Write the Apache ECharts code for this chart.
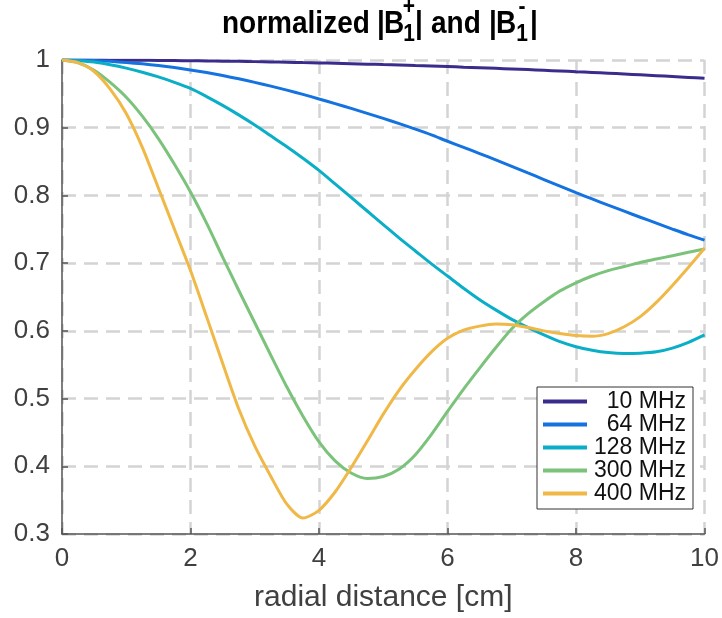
<!DOCTYPE html>
<html>
<head>
<meta charset="utf-8">
<script src="https://cdn.jsdelivr.net/npm/echarts@6/dist/echarts.min.js"></script>
<style>
html,body{margin:0;padding:0;background:#fff;}
#chart{width:722px;height:618px;}
</style>
</head>
<body>
<div id="chart"></div>
<script>
// radial distance [cm]
var xs = [0,0.25,0.5,0.75,1,1.25,1.5,1.75,2,2.25,2.5,2.75,3,3.25,3.5,3.75,4,4.25,4.5,4.75,5,
          5.25,5.5,5.75,6,6.25,6.5,6.75,7,7.25,7.5,7.75,8,8.25,8.5,8.75,9,9.25,9.5,9.75,10];
var seriesNames = ['10 MHz','64 MHz','128 MHz','300 MHz','400 MHz'];
var f10  = [1,1,0.9999,0.9998,0.9997,0.9996,0.9994,0.9992,0.9989,0.9986,0.9983,0.998,0.9976,0.9971,0.9967,0.9962,0.9957,0.9951,0.9945,0.9939,0.9932,
            0.9926,0.9918,0.9911,0.9903,0.9894,0.9886,0.9877,0.9868,0.9858,0.9848,0.9838,0.9827,0.9816,0.9805,0.9793,0.9781,0.9769,0.9756,0.9743,0.973];
var f64  = [1,0.9998,0.9991,0.998,0.9963,0.9943,0.9918,0.9888,0.9853,0.9814,0.977,0.9722,0.967,0.9614,0.9555,0.9492,0.9425,0.9356,0.9285,0.9212,0.9137,
            0.906,0.898,0.8895,0.880,0.871,0.8618,0.8525,0.843,0.8332,0.8235,0.8137,0.804,0.7948,0.7857,0.7767,0.7678,0.759,0.7503,0.7418,0.734];
var f128 = [1,0.999,0.997,0.993,0.988,0.982,0.975,0.967,0.958,0.946,0.933,0.919,0.904,0.888,0.872,0.855,0.837,0.817,0.797,0.777,0.757,
            0.737,0.718,0.699,0.681,0.663,0.646,0.631,0.617,0.605,0.594,0.584,0.5765,0.5715,0.568,0.5665,0.567,0.569,0.5745,0.583,0.594];
var f300 = [1,0.996,0.985,0.967,0.945,0.917,0.884,0.846,0.805,0.759,0.709,0.660,0.612,0.564,0.517,0.474,0.436,0.408,0.390,0.382,0.385,
            0.396,0.417,0.447,0.481,0.514,0.545,0.575,0.603,0.625,0.643,0.659,0.671,0.681,0.689,0.695,0.701,0.706,0.711,0.716,0.721];
var f400 = [1,0.996,0.983,0.957,0.921,0.871,0.811,0.750,0.689,0.621,0.552,0.485,0.430,0.385,0.344,0.3235,0.335,0.362,0.398,0.437,0.477,
            0.513,0.543,0.569,0.589,0.601,0.607,0.610,0.609,0.605,0.600,0.596,0.593,0.592,0.596,0.606,0.621,0.642,0.667,0.694,0.722];
var colors = ['#3a2c8c','#1473e0','#0aaec6','#7bc27b','#f0b846'];

var allValues = [f10,f64,f128,f300,f400];
function pairs(ys){ return xs.map(function(x,i){ return [x, ys[i]]; }); }

var FONT = "'Liberation Sans', Arial, Helvetica, sans-serif";
var chart = echarts.init(document.getElementById('chart'), null, {renderer:'canvas'});

function txt(str, x, y, size, align){
  return {type:'text', x:x, y:y, z:100, scaleY:1.12,
    style:{text:str, font:'bold '+size+'px '+FONT, fill:'#000', textAlign: align||'left', textVerticalAlign:'middle'}};
}

var option = {
  backgroundColor:'#fff',
  animation:false,
  color: colors,
  grid:{left:62, right:15, top:60, bottom:82, containLabel:false},
  xAxis:{
    type:'value', min:0, max:10, interval:2,
    name:'radial distance [cm]', nameLocation:'middle', nameGap:49,
    nameTextStyle:{fontSize:30, color:'#404040', fontFamily:FONT},
    axisLine:{show:true, onZero:false, lineStyle:{color:'#555', width:1.5}},
    axisTick:{show:true, inside:true, length:6, lineStyle:{color:'#555', width:1.5}},
    axisLabel:{fontSize:26, color:'#404040', fontFamily:FONT, margin:12},
    splitLine:{show:true, lineStyle:{color:'#d4d4d4', width:2.5, type:[14,8]}}
  },
  yAxis:{
    type:'value', min:0.3, max:1, interval:0.1,
    axisLine:{show:true, lineStyle:{color:'#555', width:1.5}},
    axisTick:{show:true, inside:true, length:6, lineStyle:{color:'#555', width:1.5}},
    axisLabel:{fontSize:26, color:'#404040', fontFamily:FONT, margin:12,
      formatter:function(v){ return String(+v.toFixed(1)); }},
    splitLine:{show:true, lineStyle:{color:'#d4d4d4', width:2.5, type:[14,8]}}
  },
  legend:{
    show:true, orient:'vertical', left:537, top:387,
    padding:[3,7,4,6], itemGap:0, itemWidth:44, itemHeight:4, icon:'rect',
    backgroundColor:'#fff', borderColor:'#333', borderWidth:1, borderRadius:0,
    data: seriesNames,
    formatter:function(n){ return '{a|'+n+'}'; },
    textStyle:{fontSize:23, color:'#111', fontFamily:FONT,
      rich:{a:{width:94, align:'right', fontSize:23, lineHeight:28, fontFamily:FONT, color:'#111'}}}
  },
  series: seriesNames.map(function(n,i){
    return {name:n, type:'line', data:pairs(allValues[i]), smooth:0.25, showSymbol:false, symbol:'none',
      lineStyle:{width:3, color:colors[i]}, itemStyle:{color:colors[i]}, z:2+i};
  }),
  graphic:[
    txt('normalized', 222, 24, 28),
    txt('|', 377, 24, 28),
    txt('B', 384, 24, 28),
    txt('+', 409, 8, 21, 'center'),
    txt('1', 409, 35, 21, 'center'),
    txt('|', 415, 24, 28),
    txt('and', 431, 24, 28),
    txt('|', 489, 24, 28),
    txt('B', 496, 24, 28),
    txt('-', 522, 8, 21, 'center'),
    txt('1', 522, 35, 21, 'center'),
    txt('|', 530, 24, 28)
  ]
};
chart.setOption(option);
</script>
</body>
</html>
